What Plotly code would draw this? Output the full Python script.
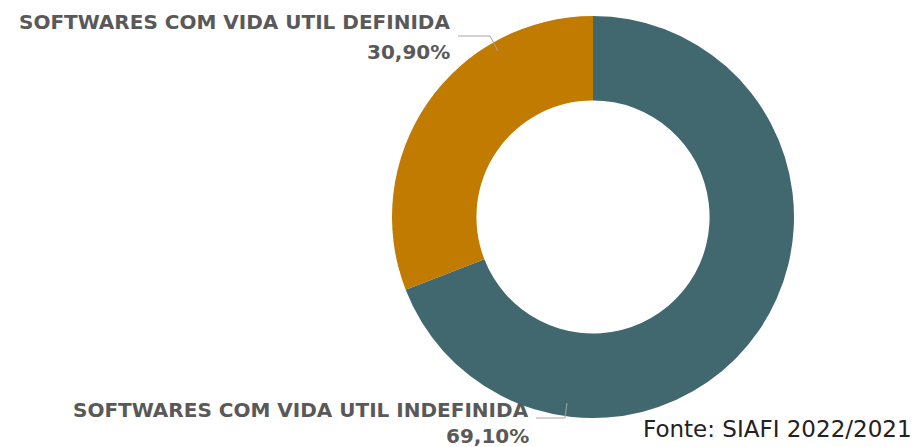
import plotly.graph_objects as go

categories = ["SOFTWARES COM VIDA UTIL INDEFINIDA", "SOFTWARES COM VIDA UTIL DEFINIDA"]
values = [69.10, 30.90]
value_labels = ["69,10%", "30,90%"]
colors = ["#41676f", "#c07b00"]
source_text = "Fonte: SIAFI 2022/2021"

W, H = 920, 447
cx, cy, r = 593, 217, 201

fig = go.Figure(go.Pie(
    labels=categories, values=values, hole=0.58, sort=False,
    direction="clockwise", rotation=0,
    marker=dict(colors=colors, line=dict(width=0)),
    textinfo="none", hoverinfo="label+percent", showlegend=False,
    domain=dict(x=[(cx - r) / W, (cx + r) / W], y=[1 - (cy + r) / H, 1 - (cy - r) / H]),
))

lab_font = dict(family="DejaVu Sans", size=20, color="#595959")
px = lambda x: x / W
py = lambda y: 1 - y / H

ann = [
    dict(x=px(452), y=py(22), text="<b>" + categories[1] + "</b>", xanchor="right", yanchor="middle", font=lab_font),
    dict(x=px(452), y=py(52), text="<b>" + value_labels[1] + "</b>", xanchor="right", yanchor="middle", font=lab_font),
    dict(x=px(531), y=py(410), text="<b>" + categories[0] + "</b>", xanchor="right", yanchor="middle", font=lab_font),
    dict(x=px(531), y=py(436), text="<b>" + value_labels[0] + "</b>", xanchor="right", yanchor="middle", font=lab_font),
    dict(x=px(914), y=py(429), text=source_text, xanchor="right", yanchor="middle",
         font=dict(family="DejaVu Sans", size=23, color="#222222")),
]
for a in ann:
    a.update(xref="paper", yref="paper", showarrow=False)

line_style = dict(color="#a6a6a6", width=1)
shapes = [
    dict(type="path", path=f"M {px(458)} {py(36)} L {px(490)} {py(36)} L {px(498)} {py(51)}",
         xref="paper", yref="paper", line=line_style),
    dict(type="path", path=f"M {px(536)} {py(418)} L {px(565)} {py(418)} L {px(567)} {py(403)}",
         xref="paper", yref="paper", line=line_style),
]

fig.update_layout(width=W, height=H, margin=dict(l=0, r=0, t=0, b=0),
                  paper_bgcolor="white", plot_bgcolor="white",
                  annotations=ann, shapes=shapes)
fig.write_html("out.html", config={"displayModeBar": False},
               post_script="document.body.style.margin='0';")
